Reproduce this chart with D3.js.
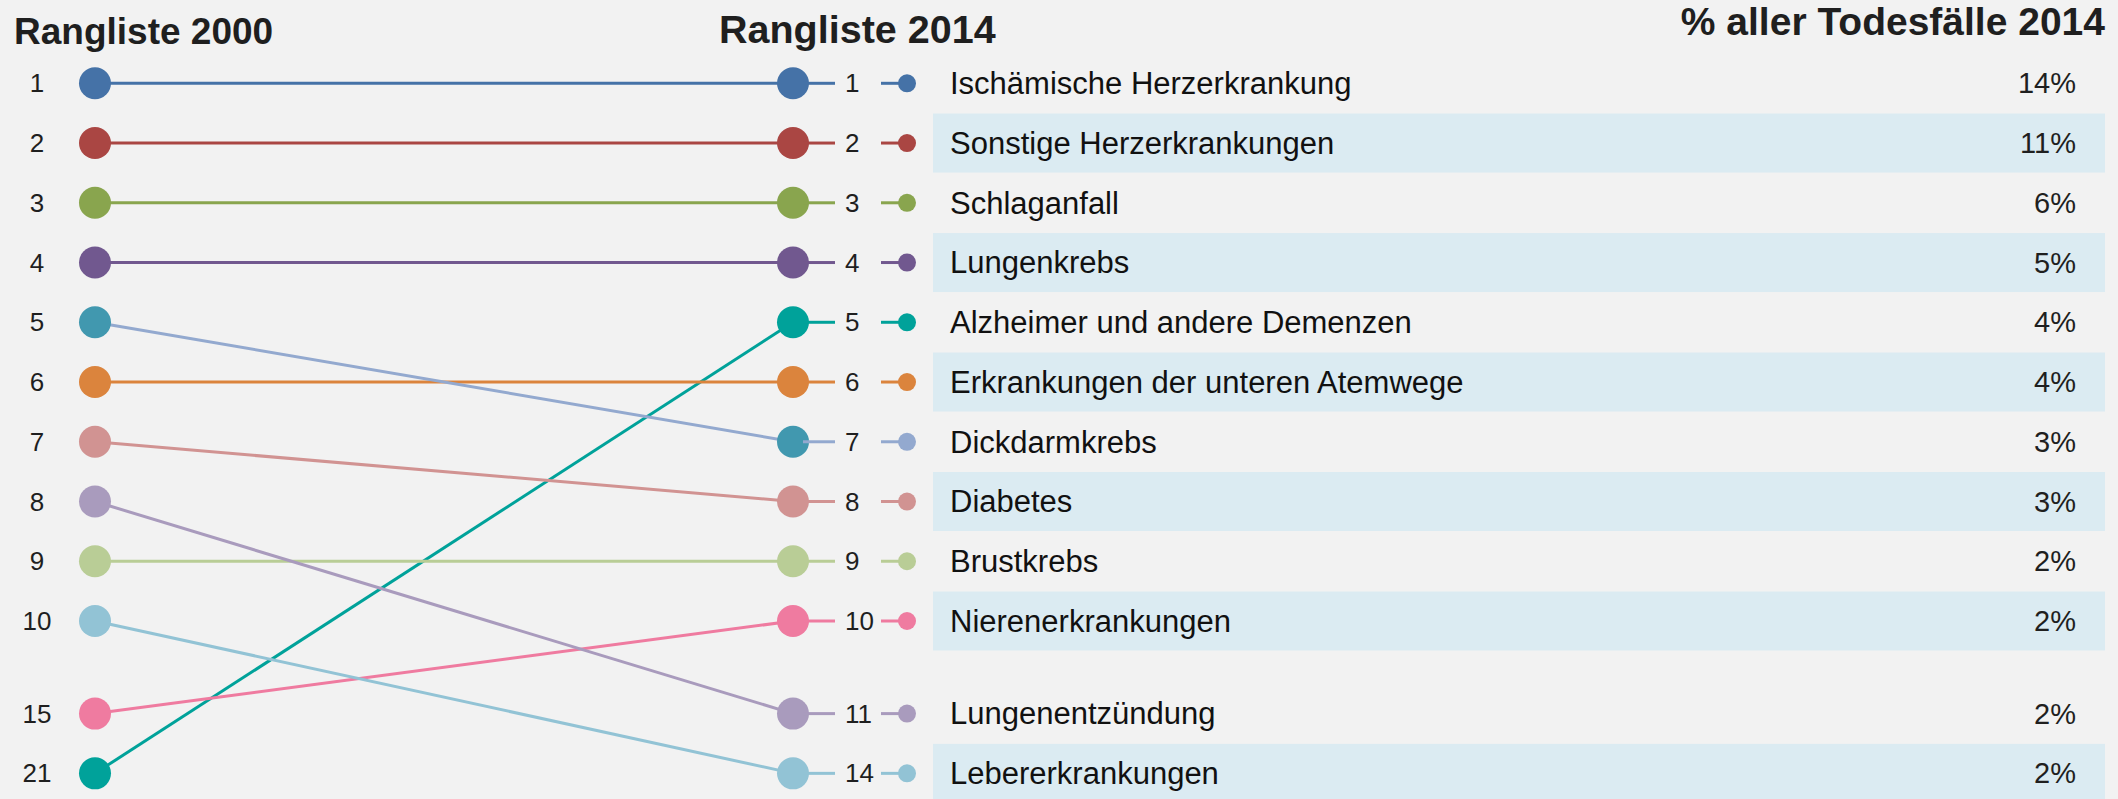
<!DOCTYPE html>
<html>
<head>
<meta charset="utf-8">
<script src="https://cdn.jsdelivr.net/npm/d3@7"></script>
<style>
  html, body { margin: 0; padding: 0; background: #f2f2f2; }
  svg { display: block; }
</style>
</head>
<body>
<div id="chart"></div>
<script>
// Causes of death, listed in 2014 order
const causes = [
  "Ischämische Herzerkrankung",
  "Sonstige Herzerkrankungen",
  "Schlaganfall",
  "Lungenkrebs",
  "Alzheimer und andere Demenzen",
  "Erkrankungen der unteren Atemwege",
  "Dickdarmkrebs",
  "Diabetes",
  "Brustkrebs",
  "Nierenerkrankungen",
  "Lungenentzündung",
  "Lebererkrankungen"
];
const rank2014 = [1, 2, 3, 4, 5, 6, 7, 8, 9, 10, 11, 14];
const rank2000 = [1, 2, 3, 4, 21, 6, 5, 7, 9, 15, 8, 10];
const share2014 = [14, 11, 6, 5, 4, 4, 3, 3, 2, 2, 2, 2];
const dotColors = ["#4572a7", "#aa4643", "#89a54e", "#71588f", "#00a29a", "#db843d",
                   "#4198af", "#d19392", "#b9cd96", "#ef7ba0", "#a99bbd", "#92c3d5"];
const lineColors = ["#4572a7", "#aa4643", "#89a54e", "#71588f", "#00a29a", "#db843d",
                    "#93a9cf", "#d19392", "#b9cd96", "#ef7ba0", "#a99bbd", "#92c3d5"];
const titles = ["Rangliste 2000", "Rangliste 2014", "% aller Todesfälle 2014"];

const width = 2118;
const height = 799;
const font = "'Liberation Sans', Arial, sans-serif";
const textColor = "#1f1f1f";

const rows = causes.map((name, i) => ({
  name, r14: rank2014[i], r00: rank2000[i], pct: share2014[i],
  dot: dotColors[i], line: lineColors[i]
}));

// slot index on each side (order by rank), with an extra gap after the top 10
const order00 = rows.slice().sort((a, b) => a.r00 - b.r00);
order00.forEach((d, i) => d.s00 = i);
rows.forEach((d, i) => d.s14 = i);
const slot = i => (i < 10 ? i : i + 0.55);

const y = d3.scaleLinear().domain([0, 9]).range([83.3, 621]);
const x = d3.scalePoint().domain(["2000", "2014"]).range([95, 793]);

const svg = d3.create("svg").attr("width", width).attr("height", height);
svg.append("rect").attr("width", width).attr("height", height).attr("fill", "#f2f2f2");

// light row bands behind every second label
svg.append("g")
  .selectAll("rect")
  .data(rows.filter((d, i) => i % 2 === 1))
  .join("rect")
  .attr("x", 933)
  .attr("y", d => y(slot(d.s14)) - 29.5)
  .attr("width", 2105 - 933)
  .attr("height", 59)
  .attr("fill", "#dbebf2");

// titles
svg.append("text").attr("x", 14).attr("y", 44).attr("font-size", 37)
  .attr("font-weight", "bold").attr("font-family", font).attr("fill", textColor)
  .text(titles[0]);
svg.append("text").attr("x", 719).attr("y", 43).attr("font-size", 39.5)
  .attr("font-weight", "bold").attr("font-family", font).attr("fill", textColor)
  .text(titles[1]);
svg.append("text").attr("x", 2105).attr("y", 35).attr("font-size", 39)
  .attr("text-anchor", "end")
  .attr("font-weight", "bold").attr("font-family", font).attr("fill", textColor)
  .text(titles[2]);

// slope lines
svg.append("g")
  .selectAll("line")
  .data(rows)
  .join("line")
  .attr("x1", x("2000"))
  .attr("y1", d => y(slot(d.s00)))
  .attr("x2", x("2014"))
  .attr("y2", d => y(slot(d.s14)))
  .attr("stroke", d => d.line)
  .attr("stroke-width", 3);

// dots 2000
svg.append("g")
  .selectAll("circle")
  .data(rows)
  .join("circle")
  .attr("cx", x("2000"))
  .attr("cy", d => y(slot(d.s00)))
  .attr("r", 16)
  .attr("fill", d => d.dot);

// dots 2014
svg.append("g")
  .selectAll("circle")
  .data(rows)
  .join("circle")
  .attr("cx", x("2014"))
  .attr("cy", d => y(slot(d.s14)))
  .attr("r", 16)
  .attr("fill", d => d.dot);

// short stubs on the right of the 2014 dots
const stubs = svg.append("g");
stubs.selectAll("line.a")
  .data(rows)
  .join("line")
  .attr("class", "a")
  .attr("x1", x("2014") + 10)
  .attr("x2", 835)
  .attr("y1", d => y(slot(d.s14)))
  .attr("y2", d => y(slot(d.s14)))
  .attr("stroke", d => d.line)
  .attr("stroke-width", 3);
stubs.selectAll("line.b")
  .data(rows)
  .join("line")
  .attr("class", "b")
  .attr("x1", 881)
  .attr("x2", 907)
  .attr("y1", d => y(slot(d.s14)))
  .attr("y2", d => y(slot(d.s14)))
  .attr("stroke", d => d.line)
  .attr("stroke-width", 3);
stubs.selectAll("circle")
  .data(rows)
  .join("circle")
  .attr("cx", 907)
  .attr("cy", d => y(slot(d.s14)))
  .attr("r", 9)
  .attr("fill", d => d.line);

// rank labels 2000
svg.append("g")
  .selectAll("text")
  .data(rows)
  .join("text")
  .attr("x", 37)
  .attr("y", d => y(slot(d.s00)))
  .attr("dy", "0.35em")
  .attr("text-anchor", "middle")
  .attr("font-size", 26)
  .attr("font-family", font)
  .attr("fill", textColor)
  .text(d => d.r00);

// rank labels 2014
svg.append("g")
  .selectAll("text")
  .data(rows)
  .join("text")
  .attr("x", 845)
  .attr("y", d => y(slot(d.s14)))
  .attr("dy", "0.35em")
  .attr("font-size", 26)
  .attr("font-family", font)
  .attr("fill", textColor)
  .text(d => d.r14);

// cause names
svg.append("g")
  .selectAll("text")
  .data(rows)
  .join("text")
  .attr("x", 950)
  .attr("y", d => y(slot(d.s14)))
  .attr("dy", "0.35em")
  .attr("font-size", 31)
  .attr("font-family", font)
  .attr("fill", "#111")
  .text(d => d.name);

// share of deaths
svg.append("g")
  .selectAll("text")
  .data(rows)
  .join("text")
  .attr("x", 2076)
  .attr("y", d => y(slot(d.s14)))
  .attr("dy", "0.35em")
  .attr("text-anchor", "end")
  .attr("font-size", 29)
  .attr("font-family", font)
  .attr("fill", textColor)
  .text(d => d.pct + "%");

document.getElementById("chart").appendChild(svg.node());
</script>
</body>
</html>
